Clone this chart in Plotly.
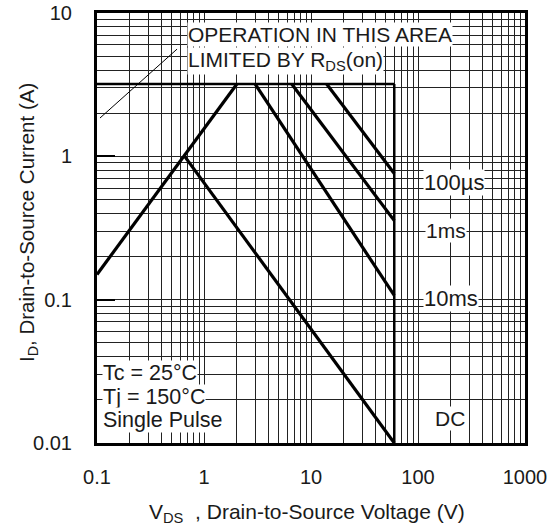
import numpy as np
import plotly.graph_objects as go

# ---- data ----
x_ticks = [0.1, 1, 10, 100, 1000]
x_tick_labels = ["0.1", "1", "10", "100", "1000"]
y_ticks = [0.01, 0.1, 1, 10]
y_tick_labels = ["0.01", "0.1", "1", "10"]

# RDS(on) limited rising boundary
rds_v = [0.1, 2.03]
rds_i = [0.15, 3.2]
# current limit (horizontal) and voltage limit (vertical)
ilim_v = [0.1, 60]
ilim_i = [3.2, 3.2]
vlim_v = [60, 60]
vlim_i = [3.2, 0.01]
# pulse lines
dc_v = [0.66, 60]
dc_i = [1.0, 0.01]
ms10_v = [3.0, 60]
ms10_i = [3.2, 0.107]
ms1_v = [6.6, 60]
ms1_i = [3.2, 0.356]
us100_v = [14, 60]
us100_i = [3.2, 0.76]
# thin pointer line from the RDS(on) note
ptr_v = [0.1066, 0.56]
ptr_i = [1.85, 5.6]

INK = "#1a1a1a"
FONT = "Liberation Sans, Arial, sans-serif"

fig = go.Figure()

def line(xs, ys, w):
    fig.add_trace(go.Scatter(x=xs, y=ys, mode="lines",
                             line=dict(color="black", width=w),
                             hoverinfo="skip", showlegend=False))

line(ilim_v, ilim_i, 2.5)
line(vlim_v, vlim_i, 2.5)
line(rds_v, rds_i, 3.2)
line(dc_v, dc_i, 3.2)
line(ms10_v, ms10_i, 3.2)
line(ms1_v, ms1_i, 3.2)
line(us100_v, us100_i, 3.2)
line(ptr_v, ptr_i, 1)

L, R, T, B = 97, 25, 13, 86
W, H = 550, 529
pw, ph = W - L - R, H - T - B

def px(x):
    return (x - L) / pw

def py(y):
    return (H - B - y) / ph

ann = []
def note(text, x, y, xanchor="left", size=21, bg="white", angle=0):
    a = dict(text=text, x=px(x), y=py(y), xref="paper", yref="paper",
             xanchor=xanchor, yanchor="middle", showarrow=False,
             font=dict(family=FONT, size=size, color=INK),
             borderpad=0, textangle=angle)
    if bg:
        a["bgcolor"] = bg
    ann.append(a)

note("OPERATION IN THIS AREA", 187, 35, size=21)
note("LIMITED BY R<sub>DS</sub>(on)", 187, 61, size=21)
note("100µs", 423, 182, size=22)
note("1ms", 425, 231, size=21)
note("10ms", 423, 298, size=22)
note("DC", 450, 418, xanchor="center", size=21)
note("Tc = 25°C", 102, 373, size=21.5)
note("Tj = 150°C", 102, 397, size=21.5)
note("Single Pulse", 102, 420, size=21.5)
note("V<sub>DS</sub>  , Drain-to-Source Voltage (V)", 307, 513, xanchor="center", size=21, bg=None)
note("I<sub>D</sub>, Drain-to-Source Current (A)", 28, 223, xanchor="center", size=20.5, bg=None, angle=-90)

fig.update_layout(
    width=W, height=H,
    margin=dict(l=L, r=R, t=T, b=B, autoexpand=False),
    paper_bgcolor="white", plot_bgcolor="white",
    annotations=ann,
    font=dict(family=FONT, size=20, color=INK),
)
fig.update_xaxes(type="log", range=[-1, 3], tickvals=x_ticks, ticktext=x_tick_labels,
                 automargin=False, ticklabeloverflow="allow",
                 showgrid=True, gridcolor="#222", gridwidth=1,
                 minor=dict(showgrid=True, gridcolor="#222", gridwidth=1, dtick="D1"),
                 showline=True, linecolor="black", linewidth=3, mirror=True,
                 ticks="", ticklabelstandoff=14, zeroline=False,
                 tickfont=dict(family=FONT, size=20, color=INK))
fig.update_yaxes(type="log", range=[-2, 1], tickvals=y_ticks, ticktext=y_tick_labels,
                 automargin=False, ticklabeloverflow="allow",
                 showgrid=True, gridcolor="#222", gridwidth=1,
                 minor=dict(showgrid=True, gridcolor="#222", gridwidth=1, dtick="D1"),
                 showline=True, linecolor="black", linewidth=3, mirror=True,
                 ticks="inside", ticklen=18, tickwidth=2, tickcolor="black",
                 ticklabelstandoff=18, zeroline=False,
                 tickfont=dict(family=FONT, size=20, color=INK))

# remove the default 8px page margin so the figure sits at the window corner
fig.write_html("out.html", config={"displayModeBar": False},
               post_script="document.body.style.margin='0px';")
